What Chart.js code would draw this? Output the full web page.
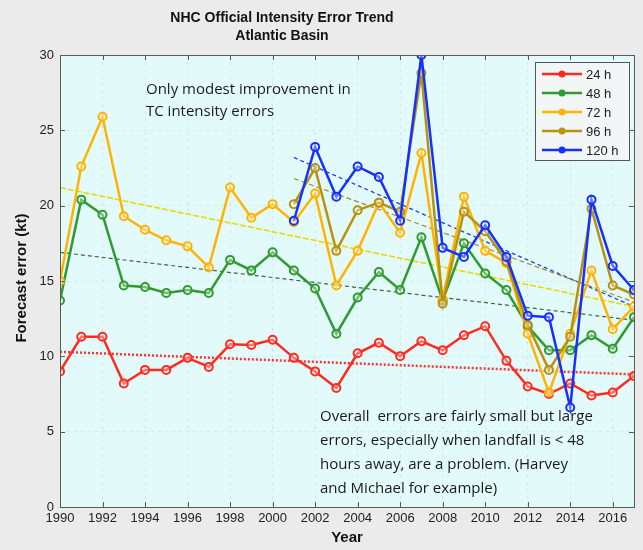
<!DOCTYPE html>
<html>
<head>
<meta charset="utf-8">
<script src="https://cdn.jsdelivr.net/npm/chart.js@4"></script>
<style>
  html, body { margin: 0; padding: 0; background: #ebebeb; }
  #wrap { width: 643px; height: 550px; position: relative; }
</style>
</head>
<body>
<div id="wrap"><canvas id="chart" width="643" height="550"></canvas></div>
<script>
// values
const years = [1990, 1991, 1992, 1993, 1994, 1995, 1996, 1997, 1998, 1999,
  2000, 2001, 2002, 2003, 2004, 2005, 2006, 2007, 2008, 2009,
  2010, 2011, 2012, 2013, 2014, 2015, 2016, 2017];
const yearsLate = years.slice(11); // 2001 onward, for 96 h and 120 h

const err24 = [9.0, 11.3, 11.3, 8.2, 9.1, 9.1, 9.9, 9.3, 10.8, 10.75,
  11.1, 9.9, 9.0, 7.9, 10.2, 10.9, 10.0, 11.0, 10.4, 11.4,
  12.0, 9.7, 8.0, 7.5, 8.2, 7.4, 7.6, 8.7];
const err48 = [13.7, 20.4, 19.4, 14.7, 14.6, 14.2, 14.4, 14.2, 16.4, 15.7,
  16.9, 15.7, 14.5, 11.5, 13.9, 15.6, 14.4, 17.9, 13.7, 17.5,
  15.5, 14.4, 12.0, 10.4, 10.4, 11.4, 10.5, 12.6];
const err72 = [15.0, 22.6, 25.9, 19.3, 18.4, 17.7, 17.3, 15.9, 21.2, 19.2,
  20.1, 18.9, 20.8, 14.7, 17.0, 20.2, 18.2, 23.5, 13.8, 20.6,
  17.0, 16.2, 11.5, 7.6, 11.5, 15.7, 11.8, 13.3];
const err96 = [20.1, 22.5, 17.0, 19.7, 20.2, 19.6, 28.8, 13.5, 19.6,
  18.3, 16.3, 12.1, 9.1, 11.3, 19.8, 14.7, 14.1];
const err120 = [19.0, 23.9, 20.6, 22.6, 21.9, 19.0, 30.0, 17.2, 16.6,
  18.7, 16.6, 12.7, 12.6, 6.6, 20.4, 16.0, 14.4];

// trend line end points [start year, end year], [start value, end value]
const trendYears = [1990, 2017];
const trendYearsLate = [2001, 2017];
const trend24 = [10.3, 8.8];
const trend48 = [16.9, 12.4];
const trend72 = [21.2, 13.3];
const trend96 = [21.8, 13.6];
const trend120 = [23.2, 13.3];

const seriesNames = ['24 h', '48 h', '72 h', '96 h', '120 h'];
const xTicks = [1990, 1992, 1994, 1996, 1998, 2000, 2002, 2004, 2006, 2008, 2010, 2012, 2014, 2016];
const yTicks = [0, 5, 10, 15, 20, 25, 30];

const colors = ['#ff2a1f', '#2f9a2f', '#ffb300', '#b8920e', '#1530ff'];

function pts(xs, ys) {
  return xs.map((x, i) => ({ x: x, y: ys[i] }));
}

function series(label, xs, ys, color) {
  return {
    label: label,
    data: pts(xs, ys),
    borderColor: color,
    backgroundColor: color,
    borderWidth: 2.5,
    pointRadius: 4,
    pointBorderWidth: 2,
    pointBackgroundColor: 'rgba(255,255,255,0.35)',
    pointBorderColor: color,
    tension: 0
  };
}

function trend(xs, ys, color, dash, width) {
  return {
    label: 'trend',
    data: pts(xs, ys),
    borderColor: color,
    borderWidth: width,
    borderDash: dash,
    pointRadius: 0,
    fill: false,
    tension: 0
  };
}

const datasets = [
  series(seriesNames[4], yearsLate, err120, colors[4]),
  series(seriesNames[3], yearsLate, err96, colors[3]),
  series(seriesNames[2], years, err72, colors[2]),
  series(seriesNames[1], years, err48, colors[1]),
  series(seriesNames[0], years, err24, colors[0]),
  trend(trendYears, trend24, '#ff3030', [2, 2], 2.5),
  trend(trendYears, trend48, '#3a6a3a', [4, 3], 1.2),
  trend(trendYears, trend72, '#e8d800', [6, 2], 1.5),
  trend(trendYearsLate, trend96, '#a08a20', [5, 3], 1.2),
  trend(trendYearsLate, trend120, '#2040e0', [4, 3], 1.3)
];

const decor = {
  id: 'decor',
  beforeDraw(chart) {
    const { ctx, chartArea: a } = chart;
    ctx.save();
    ctx.fillStyle = '#ebebeb';
    ctx.fillRect(0, 0, chart.width, chart.height);
    ctx.fillStyle = '#e3fafa';
    ctx.fillRect(a.left, a.top, a.right - a.left, a.bottom - a.top);
    ctx.restore();
  },
  afterDraw(chart) {
    const { ctx, chartArea: a, scales } = chart;
    ctx.save();
    // frame
    ctx.strokeStyle = '#5a5a5a';
    ctx.lineWidth = 1;
    ctx.strokeRect(a.left + 0.5, a.top + 0.5, a.right - a.left, a.bottom - a.top);
    // inner tick marks, matlab style
    ctx.beginPath();
    xTicks.forEach(v => {
      const x = Math.round(scales.x.getPixelForValue(v)) + 0.5;
      ctx.moveTo(x, a.bottom); ctx.lineTo(x, a.bottom - 5);
      ctx.moveTo(x, a.top); ctx.lineTo(x, a.top + 5);
    });
    yTicks.forEach(v => {
      const y = Math.round(scales.y.getPixelForValue(v)) + 0.5;
      ctx.moveTo(a.left, y); ctx.lineTo(a.left + 5, y);
      ctx.moveTo(a.right, y); ctx.lineTo(a.right - 5, y);
    });
    ctx.stroke();

    // titles
    ctx.fillStyle = '#111';
    ctx.textAlign = 'center';
    ctx.textBaseline = 'middle';
    ctx.font = 'bold 14px "Liberation Sans", Arial, sans-serif';
    ctx.fillText('NHC Official Intensity Error Trend', 282, 18);
    ctx.fillText('Atlantic Basin', 282, 36);
    ctx.font = 'bold 15px "Liberation Sans", Arial, sans-serif';
    ctx.fillText('Year', (a.left + a.right) / 2, 538);
    ctx.save();
    ctx.translate(22, 278);
    ctx.rotate(-Math.PI / 2);
    ctx.fillText('Forecast error (kt)', 0, 0);
    ctx.restore();

    // annotations
    ctx.textAlign = 'left';
    ctx.fillStyle = '#1a1a1a';
    ctx.font = '15px "Open Sans", sans-serif';
    ctx.fillText('Only modest improvement in', 146, 90);
    ctx.fillText('TC intensity errors', 146, 112);
    const note = ['Overall  errors are fairly small but large',
      'errors, especially when landfall is < 48',
      'hours away, are a problem. (Harvey',
      'and Michael for example)'];
    note.forEach((t, i) => ctx.fillText(t, 320, 417 + i * 24));

    // legend
    const lx = 535, ly = 62, lw = 94, lh = 98;
    ctx.fillStyle = '#f2f6f6';
    ctx.fillRect(lx, ly, lw, lh);
    ctx.strokeStyle = '#555';
    ctx.lineWidth = 1;
    ctx.strokeRect(lx + 0.5, ly + 0.5, lw, lh);
    ctx.font = '13px "Liberation Sans", Arial, sans-serif';
    for (let i = 0; i < 5; i++) {
      const y = ly + 12 + i * 19;
      ctx.strokeStyle = colors[i];
      ctx.lineWidth = 2.5;
      ctx.beginPath();
      ctx.moveTo(542, y);
      ctx.lineTo(582, y);
      ctx.stroke();
      ctx.fillStyle = colors[i];
      ctx.beginPath();
      ctx.arc(562, y, 3.5, 0, Math.PI * 2);
      ctx.fill();
      ctx.fillStyle = '#222';
      ctx.fillText(seriesNames[i], 586, y + 1);
    }
    ctx.restore();
  }
};

new Chart(document.getElementById('chart'), {
  type: 'line',
  data: { datasets: datasets },
  options: {
    responsive: false,
    animation: false,
    layout: { padding: { top: 55, right: 9, left: 0, bottom: 0 } },
    plugins: {
      legend: { display: false },
      tooltip: { enabled: false },
      title: { display: false }
    },
    scales: {
      x: {
        type: 'linear',
        min: 1990,
        max: 2017,
        afterBuildTicks(scale) { scale.ticks = xTicks.map(v => ({ value: v })); },
        afterFit(scale) { scale.height = 43; },
        ticks: {
          color: '#222',
          font: { family: '"Liberation Sans", Arial, sans-serif', size: 13 },
          padding: 4,
          maxRotation: 0,
          autoSkip: false,
          callback: v => String(v)
        },
        grid: {
          color: 'rgba(150,150,150,0.22)',
          drawTicks: false
        },
        border: { display: false, dash: [3, 4] }
      },
      y: {
        min: 0,
        max: 30,
        afterBuildTicks(scale) { scale.ticks = yTicks.map(v => ({ value: v })); },
        afterFit(scale) { scale.width = 60; },
        ticks: {
          color: '#222',
          font: { family: '"Liberation Sans", Arial, sans-serif', size: 13 },
          padding: 6
        },
        grid: {
          color: 'rgba(150,150,150,0.18)',
          drawTicks: false
        },
        border: { display: false, dash: [3, 4] }
      }
    }
  },
  plugins: [decor]
});
</script>
</body>
</html>
